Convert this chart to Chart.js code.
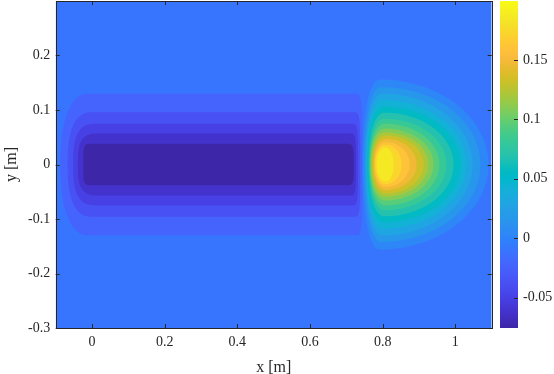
<!DOCTYPE html>
<html>
<head>
<meta charset="utf-8">
<script src="https://cdn.jsdelivr.net/npm/chart.js@4.4.1/dist/chart.umd.min.js"></script>
<style>
  html, body { margin: 0; padding: 0; background: #fff; }
</style>
</head>
<body>
<canvas id="chart" width="554" height="374"></canvas>
<script>
// axis ticks
const xTicks = [0, 0.2, 0.4, 0.6, 0.8, 1];
const yTicks = [-0.3, -0.2, -0.1, 0, 0.1, 0.2];
const cbTicks = [-0.05, 0, 0.05, 0.1, 0.15];

// colour limits of the field
const zMin = -0.0755;
const zMax = 0.1996;
// level of the far-field band (region that touches the axes)
const bgLevel = -0.0100;

// negative contours, outer -> inner (data units)
const negLevels = [-0.0100, -0.0231, -0.0362, -0.0493, -0.0624];
const negLeft   = [-0.087, -0.067, -0.052, -0.039, -0.024];
const negFlatL  = [-0.010, 0.003, 0.015, 0.024, -0.002];
const negFlatR  = [0.722, 0.718, 0.712, 0.706, 0.697];
const negRight  = [0.744, 0.738, 0.732, 0.726, 0.720];
const negHalfH  = [0.130, 0.096, 0.075, 0.057, 0.038];
const negBend   = [2.3, 2.6, 2.9, 3.2, 4.5];

// positive contours, outer -> inner
const posLevels = [0.0031, 0.0162, 0.0293, 0.0424, 0.0555, 0.0686, 0.0817, 0.0948,
                   0.1079, 0.1210, 0.1341, 0.1472, 0.1603, 0.1734, 0.1865];
const posLeft   = [0.745, 0.750, 0.753, 0.755, 0.758, 0.761, 0.764, 0.765,
                   0.766, 0.769, 0.772, 0.775, 0.777, 0.780, 0.784];
const posPeak   = [0.792, 0.796, 0.799, 0.801, 0.803, 0.805, 0.806, 0.807,
                   0.808, 0.808, 0.809, 0.809, 0.809, 0.809, 0.808];
const posRight  = [1.091, 1.069, 1.047, 1.030, 1.014, 0.995, 0.975, 0.956,
                   0.940, 0.926, 0.912, 0.893, 0.874, 0.852, 0.830];
const posHalfH  = [0.156, 0.142, 0.130, 0.118, 0.106, 0.095, 0.084, 0.075,
                   0.066, 0.059, 0.053, 0.047, 0.041, 0.036, 0.031];

// parula, 64 entries
const parula = [
  [0.2422,0.1504,0.6603],[0.2504,0.1650,0.7076],[0.2578,0.1818,0.7511],[0.2647,0.1978,0.7952],
  [0.2706,0.2147,0.8364],[0.2751,0.2342,0.8710],[0.2783,0.2559,0.8991],[0.2803,0.2782,0.9221],
  [0.2813,0.3006,0.9414],[0.2810,0.3228,0.9579],[0.2795,0.3447,0.9717],[0.2760,0.3667,0.9829],
  [0.2699,0.3892,0.9906],[0.2602,0.4123,0.9952],[0.2440,0.4358,0.9988],[0.2206,0.4603,0.9973],
  [0.1963,0.4847,0.9892],[0.1834,0.5074,0.9798],[0.1786,0.5289,0.9682],[0.1764,0.5499,0.9520],
  [0.1687,0.5703,0.9359],[0.1540,0.5902,0.9218],[0.1460,0.6091,0.9079],[0.1380,0.6276,0.8973],
  [0.1248,0.6459,0.8883],[0.1113,0.6635,0.8763],[0.0952,0.6798,0.8598],[0.0689,0.6948,0.8394],
  [0.0297,0.7082,0.8163],[0.0036,0.7203,0.7917],[0.0067,0.7312,0.7660],[0.0433,0.7411,0.7394],
  [0.0964,0.7500,0.7120],[0.1408,0.7584,0.6842],[0.1717,0.7670,0.6554],[0.1938,0.7758,0.6251],
  [0.2161,0.7843,0.5923],[0.2470,0.7918,0.5567],[0.2906,0.7973,0.5188],[0.3406,0.8008,0.4789],
  [0.3909,0.8029,0.4354],[0.4456,0.8024,0.3909],[0.5044,0.7993,0.3480],[0.5616,0.7942,0.3045],
  [0.6174,0.7876,0.2612],[0.6720,0.7793,0.2227],[0.7242,0.7698,0.1910],[0.7738,0.7598,0.1646],
  [0.8203,0.7498,0.1535],[0.8634,0.7406,0.1596],[0.9035,0.7330,0.1774],[0.9393,0.7288,0.2100],
  [0.9728,0.7298,0.2394],[0.9956,0.7434,0.2371],[0.9970,0.7659,0.2199],[0.9952,0.7893,0.2028],
  [0.9892,0.8136,0.1885],[0.9786,0.8386,0.1766],[0.9676,0.8639,0.1643],[0.9610,0.8890,0.1537],
  [0.9597,0.9135,0.1423],[0.9628,0.9373,0.1265],[0.9691,0.9606,0.1064],[0.9769,0.9839,0.0805]
];
const rgb = (c) => `rgb(${Math.round(c[0] * 255)},${Math.round(c[1] * 255)},${Math.round(c[2] * 255)})`;
const cmap = (v) => {
  const t = (v - zMin) / (zMax - zMin);
  const i = Math.max(0, Math.min(parula.length - 1, Math.floor(t * parula.length)));
  return rgb(parula[i]);
};

const FONT = "'Liberation Serif', 'DejaVu Serif', serif";
const INK = '#262626';

// half of a superellipse, angles a0..a1 around (cx, 0)
function arc(cx, rx, ry, p, a0, a1, n) {
  const pts = [];
  for (let k = 0; k <= n; k++) {
    const a = a0 + (a1 - a0) * k / n;
    const c = Math.cos(a), s = Math.sin(a);
    pts.push({
      x: cx + rx * Math.sign(c) * Math.pow(Math.abs(c), 2 / p),
      y: ry * Math.sign(s) * Math.pow(Math.abs(s), 2 / p)
    });
  }
  return pts;
}

const datasets = [];
negLevels.forEach((lv, i) => {
  const inner = i + 1 < negLevels.length ? negLevels[i + 1] : zMin;
  const pts = arc(negFlatR[i], negRight[i] - negFlatR[i], negHalfH[i], 5, -Math.PI / 2, Math.PI / 2, 40)
    .concat(arc(negFlatL[i], negFlatL[i] - negLeft[i], negHalfH[i], negBend[i], Math.PI / 2, Math.PI * 1.5, 60));
  datasets.push({ label: String(lv), data: pts, fillColor: cmap(inner) });
});
posLevels.forEach((lv, i) => {
  const pts = arc(posPeak[i], posRight[i] - posPeak[i], posHalfH[i], 2, -Math.PI / 2, Math.PI / 2, 60)
    .concat(arc(posPeak[i], posPeak[i] - posLeft[i], posHalfH[i], 2.2, Math.PI / 2, Math.PI * 1.5, 40));
  datasets.push({ label: String(lv), data: pts, fillColor: cmap(lv) });
});
datasets.forEach(d => { d.pointRadius = 0; d.showLine = false; });

const contourFill = {
  id: 'contourFill',
  beforeDatasetsDraw(chart) {
    const { ctx, chartArea: a } = chart;
    ctx.save();
    ctx.beginPath();
    ctx.rect(a.left, a.top, a.width, a.height);
    ctx.clip();
    ctx.fillStyle = cmap(bgLevel);
    ctx.fillRect(a.left, a.top, a.width, a.height);
    chart.data.datasets.forEach((ds, i) => {
      const els = chart.getDatasetMeta(i).data;
      ctx.beginPath();
      els.forEach((p, j) => (j ? ctx.lineTo(p.x, p.y) : ctx.moveTo(p.x, p.y)));
      ctx.closePath();
      ctx.fillStyle = ds.fillColor;
      ctx.fill();
    });
    ctx.restore();
  }
};

const frame = {
  id: 'frame',
  afterDraw(chart) {
    const { ctx, chartArea: a, scales } = chart;
    const tl = 4;
    ctx.save();
    ctx.strokeStyle = INK;
    ctx.lineWidth = 1;
    ctx.beginPath();
    xTicks.forEach(v => {
      const x = Math.round(scales.x.getPixelForValue(v)) + 0.5;
      ctx.moveTo(x, a.bottom); ctx.lineTo(x, a.bottom - tl);
      ctx.moveTo(x, a.top); ctx.lineTo(x, a.top + tl);
    });
    yTicks.forEach(v => {
      const y = Math.round(scales.y.getPixelForValue(v)) + 0.5;
      ctx.moveTo(a.left, y); ctx.lineTo(a.left + tl, y);
      ctx.moveTo(a.right, y); ctx.lineTo(a.right - tl, y);
    });
    ctx.stroke();
    ctx.strokeRect(Math.round(a.left) + 0.5, Math.round(a.top) + 0.5,
                   Math.round(a.right) - Math.round(a.left), Math.round(a.bottom) - Math.round(a.top));

    // colour bar
    const cb = scales.cb;
    const x0 = 500, x1 = 518;
    const yTop = cb.getPixelForValue(zMax), yBot = cb.getPixelForValue(zMin);
    const g = ctx.createLinearGradient(0, yBot, 0, yTop);
    parula.forEach((c, k) => g.addColorStop(k / (parula.length - 1), rgb(c)));
    ctx.fillStyle = g;
    ctx.fillRect(x0, yTop, x1 - x0, yBot - yTop);
    ctx.beginPath();
    cbTicks.forEach(v => {
      const y = Math.round(cb.getPixelForValue(v)) + 0.5;
      ctx.moveTo(x1, y); ctx.lineTo(x1 - 4, y);
    });
    ctx.stroke();
    ctx.restore();
  }
};

const tickFont = { family: FONT, size: 14 };
const titleFont = { family: FONT, size: 16, lineHeight: 0.8 };
const noPad = s => { s.paddingTop = 0; s.paddingBottom = 0; s.paddingLeft = 0; s.paddingRight = 0; };

new Chart(document.getElementById('chart'), {
  type: 'scatter',
  data: { datasets },
  options: {
    responsive: false,
    animation: false,
    devicePixelRatio: 1,
    layout: { padding: { top: 1, right: 0, bottom: 0, left: 0 } },
    plugins: { legend: { display: false }, tooltip: { enabled: false } },
    events: [],
    scales: {
      x: {
        type: 'linear', min: -0.1, max: 1.1,
        afterBuildTicks: s => { s.ticks = xTicks.map(v => ({ value: v })); },
        afterFit: s => { s.height = 46; noPad(s); },
        grid: { display: false, drawTicks: false },
        border: { display: false },
        ticks: { font: tickFont, color: INK, padding: 6, maxRotation: 0, autoSkip: false,
                 callback: v => String(v) },
        title: { display: true, text: 'x [m]', font: titleFont, color: INK, padding: { top: 0, bottom: 0 } }
      },
      y: {
        type: 'linear', min: -0.3, max: 0.3,
        afterBuildTicks: s => { s.ticks = yTicks.map(v => ({ value: v })); },
        afterFit: s => { s.width = 55.7; noPad(s); },
        grid: { display: false, drawTicks: false },
        border: { display: false },
        ticks: { font: tickFont, color: INK, padding: 5.5, autoSkip: false,
                 callback: v => String(v) },
        title: { display: true, text: 'y [m]', font: titleFont, color: INK, padding: { top: 5, bottom: 0 } }
      },
      cb: {
        type: 'linear', position: 'right', min: zMin, max: zMax,
        afterBuildTicks: s => { s.ticks = cbTicks.map(v => ({ value: v })); },
        afterFit: s => { s.width = 62.3; noPad(s); },
        grid: { display: false, drawTicks: false },
        border: { display: false },
        ticks: { font: tickFont, color: INK, padding: 31.3, autoSkip: false,
                 callback: v => String(v) }
      }
    }
  },
  plugins: [contourFill, frame]
});
</script>
</body>
</html>
